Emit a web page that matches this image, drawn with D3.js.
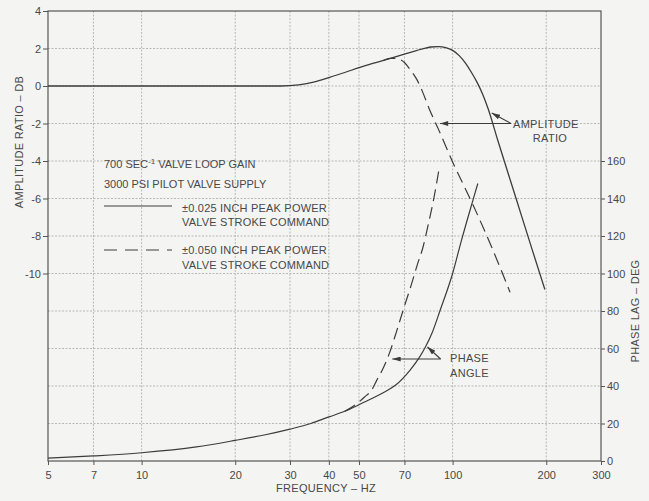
<!DOCTYPE html>
<html>
<head>
<meta charset="utf-8">
<script src="https://cdn.jsdelivr.net/npm/d3@7"></script>
<style>
  body { margin: 0; background: #f4f4f2; }
  svg text { font-family: "Liberation Sans", Arial, sans-serif; font-size: 11px; fill: #484848; }
</style>
</head>
<body>
<svg id="chart" width="649" height="501"></svg>
<script>
// frequency ticks (log axis) and value ticks
var freqTicks = [5, 7, 10, 20, 30, 40, 50, 70, 100, 200, 300];
var ampTicks = [4, 2, 0, -2, -4, -6, -8, -10];
var phaseTicks = [0, 20, 40, 60, 80, 100, 120, 140, 160];

// amplitude ratio, +-0.025 inch command (solid)
var ampFreqA = [5, 10, 20, 28, 32, 36, 40, 45, 50, 55, 60, 65, 70, 75, 80, 85, 90, 95, 100, 105, 110, 115, 120, 125, 130, 140, 160, 180, 198];
var ampDbA   = [0, 0, 0, 0, 0.06, 0.22, 0.45, 0.72, 0.98, 1.19, 1.37, 1.54, 1.7, 1.85, 1.98, 2.08, 2.1, 2.05, 1.9, 1.62, 1.22, 0.72, 0.18, -0.45, -1.2, -2.95, -6.0, -8.7, -10.85];

// amplitude ratio, +-0.050 inch command (dashed)
var ampFreqB = [60, 63, 66, 68, 70, 73, 77, 80, 84, 90, 100, 116, 132, 153];
var ampDbB   = [1.37, 1.47, 1.47, 1.4, 1.25, 0.88, 0.3, -0.3, -1.2, -2.3, -4.05, -6.3, -8.4, -11.0];

// phase lag, solid
var phFreqA = [5, 7, 10, 15, 20, 25, 30, 35, 40, 45, 50, 55, 60, 65.6, 73, 78, 81.6, 86, 91, 100, 106.5, 116.2, 120.5];
var phDegA  = [1.5, 2.7, 4.4, 7.5, 11, 14, 17, 20, 23.5, 26.5, 30, 33.3, 36.5, 40.5, 48.5, 55, 60.5, 68.5, 80, 100, 117, 139, 148];

// phase lag, dashed
var phFreqB = [45, 47.5, 50, 52, 55, 57, 60, 62.6, 66, 69.9, 73.5, 77.1, 80.3, 83.2, 87, 90.7];
var phDegB  = [26.5, 28.8, 31.5, 34, 38, 43, 50, 57.4, 69, 82.3, 93.5, 105, 114, 125, 140, 157];

var svg = d3.select("#chart");
var padL = 48, padR = 601, padT = 11, padB = 461;

var x = d3.scaleLog().domain([5, 300]).range([padL, padR]);
var yA = d3.scaleLinear().domain([-20, 4]).range([padB, padT]);
var yP = d3.scaleLinear().domain([0, 240]).range([padB, padT]);

var ink = "#3c3c3c", gridCol = "#a8a8a8";

// grid
var grid = svg.append("g");
grid.selectAll("line.v")
  .data(freqTicks.filter(function(d){ return d > 5 && d < 300; }))
  .enter().append("line")
  .attr("x1", function(d){ return x(d); }).attr("x2", function(d){ return x(d); })
  .attr("y1", padT).attr("y2", padB)
  .attr("stroke", gridCol).attr("stroke-width", 0.8).attr("stroke-dasharray", "2,1.5");
grid.selectAll("line.h")
  .data(d3.range(2, -20, -2))
  .enter().append("line")
  .attr("x1", padL).attr("x2", padR)
  .attr("y1", function(d){ return yA(d); }).attr("y2", function(d){ return yA(d); })
  .attr("stroke", gridCol).attr("stroke-width", 0.8).attr("stroke-dasharray", "2,1.5");

// frame
svg.append("rect").attr("x", padL).attr("y", padT)
  .attr("width", padR - padL).attr("height", padB - padT)
  .attr("fill", "none").attr("stroke", "#555").attr("stroke-width", 1.2);

// axes
var plain = function(d){ return String(d); };
var xAxis = d3.axisBottom(x).tickValues(freqTicks).tickFormat(plain).tickSize(4).tickPadding(6);
svg.append("g").attr("transform", "translate(0," + padB + ")").call(xAxis);
var lAxis = d3.axisLeft(yA).tickValues(ampTicks).tickFormat(plain).tickSize(5).tickPadding(2);
svg.append("g").attr("transform", "translate(" + padL + ",0)").call(lAxis);
var rAxis = d3.axisRight(yP).tickValues(phaseTicks).tickFormat(plain).tickSize(4).tickPadding(2);
svg.append("g").attr("transform", "translate(" + padR + ",0)").call(rAxis);
svg.selectAll(".domain").remove();
svg.selectAll(".tick line").attr("stroke", "#555").attr("stroke-width", 1);
svg.selectAll(".tick text").attr("font-family", "Liberation Sans, Arial, sans-serif").attr("font-size", 11).attr("fill", "#484848");

// axis titles
svg.append("text").attr("transform", "translate(19,142) rotate(-90)")
  .attr("text-anchor", "middle").attr("dy", "0.35em").attr("letter-spacing", 0.3).text("AMPLITUDE RATIO \u2013 DB");
svg.append("text").attr("transform", "translate(635,311) rotate(-90)")
  .attr("text-anchor", "middle").attr("dy", "0.35em").attr("letter-spacing", 0.3).text("PHASE LAG \u2013 DEG");
svg.append("text").attr("x", 326).attr("y", 492).attr("text-anchor", "middle").attr("letter-spacing", 0.3).text("FREQUENCY \u2013 HZ");

// curves
function zip(fs, vs) { return fs.map(function(f, i){ return [f, vs[i]]; }); }
var lineA = d3.line().x(function(d){ return x(d[0]); }).y(function(d){ return yA(d[1]); }).curve(d3.curveMonotoneX);
var lineP = d3.line().x(function(d){ return x(d[0]); }).y(function(d){ return yP(d[1]); }).curve(d3.curveMonotoneX);

svg.append("path").attr("d", lineA(zip(ampFreqA, ampDbA)))
  .attr("fill", "none").attr("stroke", ink).attr("stroke-width", 1.3);
svg.append("path").attr("d", lineA(zip(ampFreqB, ampDbB)))
  .attr("fill", "none").attr("stroke", ink).attr("stroke-width", 1.2).attr("stroke-dasharray", "12,6");
svg.append("path").attr("d", lineP(zip(phFreqA, phDegA)))
  .attr("fill", "none").attr("stroke", ink).attr("stroke-width", 1.2);
svg.append("path").attr("d", lineP(zip(phFreqB, phDegB)))
  .attr("fill", "none").attr("stroke", ink).attr("stroke-width", 1.2).attr("stroke-dasharray", "12,6");

// legend
var lg = svg.append("g");
var t1 = lg.append("text").attr("x", 104).attr("y", 168);
t1.append("tspan").text("700 SEC");
t1.append("tspan").attr("dy", -4).attr("font-size", 8).text("-1");
t1.append("tspan").attr("dy", 4).text(" VALVE LOOP GAIN");
lg.append("text").attr("x", 104).attr("y", 188).text("3000 PSI PILOT VALVE SUPPLY");
lg.append("line").attr("x1", 104).attr("x2", 172).attr("y1", 206).attr("y2", 206)
  .attr("stroke", ink).attr("stroke-width", 1.2);
lg.append("text").attr("x", 182).attr("y", 212).attr("letter-spacing", 0.2).text("\u00b10.025 INCH PEAK POWER");
lg.append("text").attr("x", 182).attr("y", 226).attr("letter-spacing", 0.2).text("VALVE STROKE COMMAND");
lg.append("line").attr("x1", 104).attr("x2", 172).attr("y1", 250).attr("y2", 250)
  .attr("stroke", ink).attr("stroke-width", 1.2).attr("stroke-dasharray", "13,8");
lg.append("text").attr("x", 182).attr("y", 254).attr("letter-spacing", 0.2).text("\u00b10.050 INCH PEAK POWER");
lg.append("text").attr("x", 182).attr("y", 269).attr("letter-spacing", 0.2).text("VALVE STROKE COMMAND");

// annotation arrows
svg.append("defs").append("marker").attr("id", "ah")
  .attr("viewBox", "0 0 10 6").attr("refX", 10).attr("refY", 3)
  .attr("markerWidth", 9).attr("markerHeight", 5).attr("markerUnits", "userSpaceOnUse")
  .attr("orient", "auto")
  .append("path").attr("d", "M0,0L10,3L0,6z").attr("fill", ink);

function arrow(f0, v0, f1, v1, ys) {
  svg.append("line")
    .attr("x1", x(f0)).attr("y1", ys(v0)).attr("x2", x(f1)).attr("y2", ys(v1))
    .attr("stroke", ink).attr("stroke-width", 1.1).attr("marker-end", "url(#ah)");
}
arrow(154, -2, 91, -2, yA);
arrow(154, -2, 133.6, -1.44, yA);
svg.append("text").attr("x", 513).attr("y", 128).attr("letter-spacing", 0.3).text("AMPLITUDE");
svg.append("text").attr("x", 550).attr("y", 142).attr("text-anchor", "middle").attr("letter-spacing", 0.3).text("RATIO");

arrow(91.5, 54.4, 64, 54.4, yP);
arrow(91.5, 54.4, 83, 60.8, yP);
svg.append("text").attr("x", 450).attr("y", 362).attr("letter-spacing", 0.3).text("PHASE");
svg.append("text").attr("x", 450).attr("y", 377).attr("letter-spacing", 0.3).text("ANGLE");
</script>
</body>
</html>
